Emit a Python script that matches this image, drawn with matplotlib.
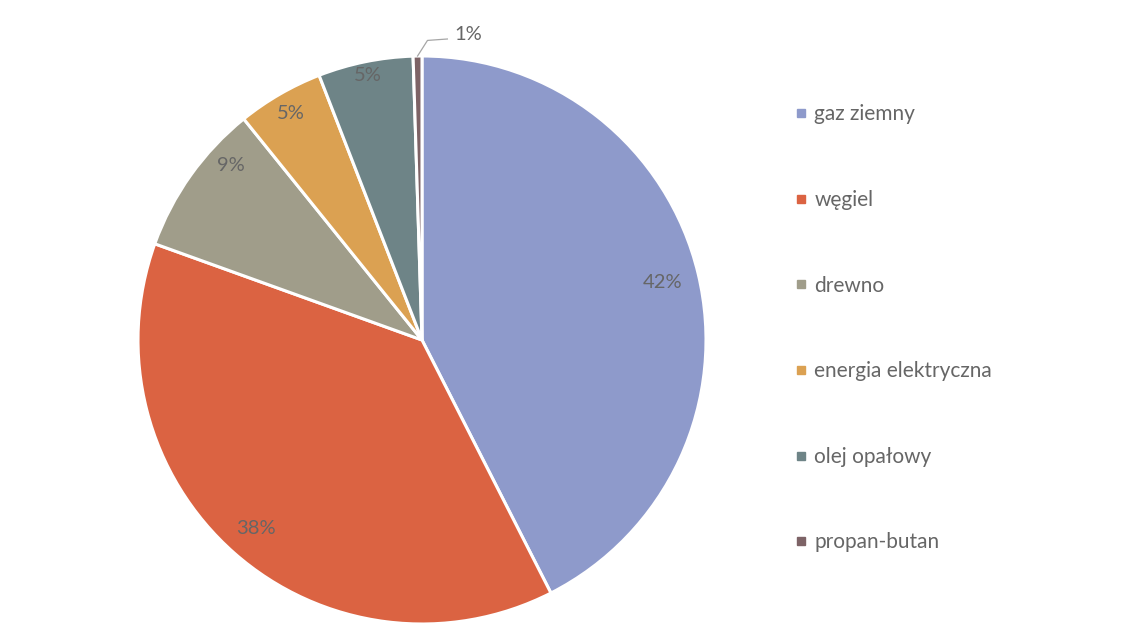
import numpy as np
import matplotlib
matplotlib.use("Agg")
import matplotlib.pyplot as plt
from matplotlib.lines import Line2D

categories = ["gaz ziemny", "węgiel", "drewno", "energia elektryczna", "olej opałowy", "propan-butan"]
values = [42.5, 38.0, 8.7, 4.9, 5.4, 0.5]
pct_labels = ["42%", "38%", "9%", "5%", "5%", "1%"]
colors = ["#8e9acb", "#db6342", "#a09d8a", "#dba152", "#6e8487", "#7d6366"]

plt.rcParams['font.family'] = ['Lato', 'DejaVu Sans']

W, H = 1138, 642
fig = plt.figure(figsize=(W / 100, H / 100), dpi=100)
cx, cy, r = 422, 340, 284
ax = fig.add_axes([(cx - r) / W, (H - cy - r) / H, 2 * r / W, 2 * r / H])
ax.set_xlim(-1, 1)
ax.set_ylim(-1, 1)
ax.set_aspect('equal')
ax.axis('off')

wedges, _ = ax.pie(values, colors=colors, startangle=90, counterclock=False,
                   radius=1.0, wedgeprops=dict(edgecolor='white', linewidth=2.2),
                   center=(0, 0), frame=False)
ax.set_xlim(-1, 1)
ax.set_ylim(-1, 1)

txt_color = '#666666'
fs = 14.5
label_dist = [0.87, 0.885, 0.91, 0.92, 0.95, None]
label_rot = [0, 0, -7, 0, 0, 0]
for w, lab, d, dr in zip(wedges, pct_labels, label_dist, label_rot):
    ang = np.deg2rad((w.theta1 + w.theta2) / 2)
    if d is not None:
        a2 = ang + np.deg2rad(dr)
        ax.text(d * np.cos(a2), d * np.sin(a2), lab, ha='center', va='center',
                fontsize=fs, color=txt_color)
    else:
        x0, y0 = 1.0 * np.cos(ang), 1.0 * np.sin(ang)
        x1, y1 = x0 + 0.035, y0 + 0.055
        x2 = x1 + 0.07
        ax.plot([x0, x1, x2], [y0, y1, y1 + 0.005], color='#a6a6a6', lw=0.9, clip_on=False)
        ax.text(x2 + 0.025, y1 + 0.02, lab, ha='left', va='center', fontsize=fs,
                color=txt_color, clip_on=False)

handles = [Line2D([], [], marker='s', linestyle='none', markersize=5.5,
                  markerfacecolor=c, markeredgecolor=c) for c in colors]
fig.legend(handles, categories, loc='upper left',
           bbox_to_anchor=(785 / W, 1 - 96 / H), frameon=False,
           fontsize=15, labelcolor=txt_color, labelspacing=3.15,
           handlelength=0.7, handletextpad=0.3, borderaxespad=0)

fig.savefig("out.png", dpi=100, facecolor='white')
